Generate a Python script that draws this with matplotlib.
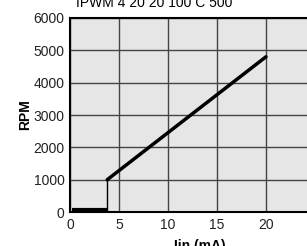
import matplotlib.pyplot as plt

# curve
low_x = [0.25, 3.8]
low_rpm = [50, 50]
step_x = [3.8, 3.8]
step_rpm = [50, 1000]
ramp_x = [3.8, 20]
ramp_rpm = [1000, 4800]

xticks = [0, 5, 10, 15, 20]
yticks = [0, 1000, 2000, 3000, 4000, 5000, 6000]

plt.rcParams['font.family'] = ['Liberation Sans', 'DejaVu Sans']

fig = plt.figure(figsize=(3.07, 2.46), dpi=100)
ax = fig.add_axes([0.228, 0.138, 0.798, 0.789])
ax.set_facecolor('#e6e6e6')

ax.plot(low_x, low_rpm, color='black', lw=3, solid_capstyle='butt')
ax.plot(step_x, step_rpm, color='black', lw=1)
ax.plot(ramp_x, ramp_rpm, color='black', lw=2.5, solid_capstyle='round')

ax.set_xlim(0, 25)
ax.set_ylim(0, 6000)
ax.set_xticks(xticks)
ax.set_yticks(yticks)
ax.grid(True, color='#444444', lw=1)
ax.tick_params(length=0, labelsize=10, pad=4, colors='#222222')
for s in ax.spines.values():
    s.set_linewidth(1.5)

ax.set_title('IPWM 4 20 20 100 C 500', fontsize=10, pad=8, x=0.343)
ax.set_xlabel('Iin (mA)', fontsize=10, fontweight='bold')
ax.xaxis.set_label_coords(0.53, -0.14)
ax.set_ylabel('RPM', fontsize=10, fontweight='bold', labelpad=1)

fig.savefig('out.png', dpi=100)
